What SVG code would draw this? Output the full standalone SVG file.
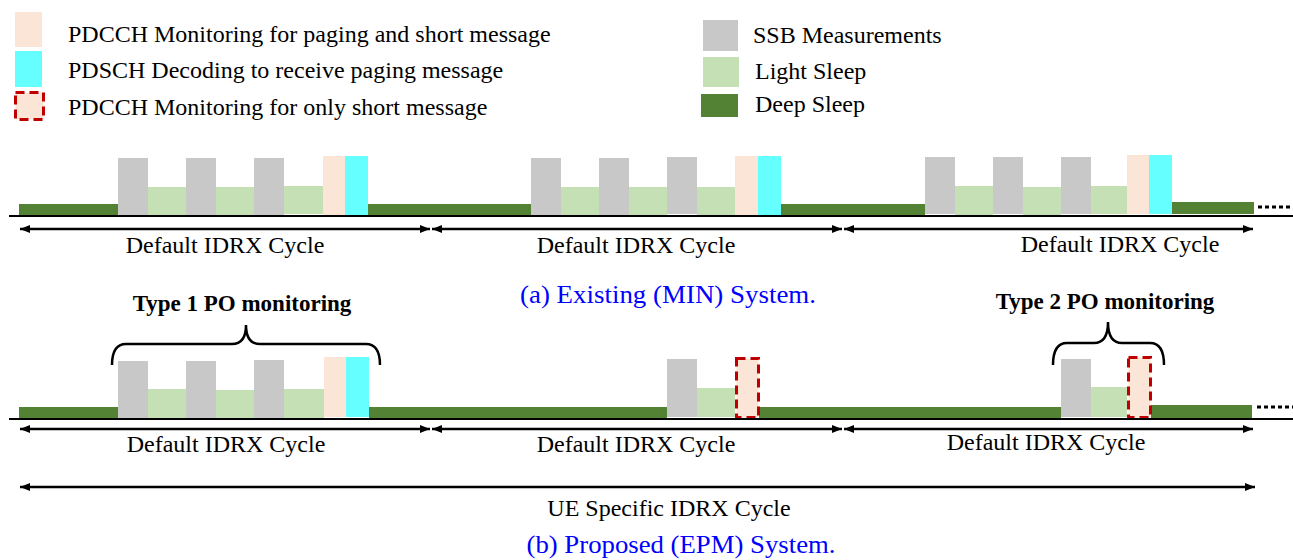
<svg xmlns="http://www.w3.org/2000/svg" width="1293" height="560" viewBox="0 0 1293 560">
<style>
text{font-family:"Liberation Serif","Times New Roman",serif;fill:#000}
.lg{font-size:24px}
.lab{font-size:24px;text-anchor:middle}
.bold{font-size:23px;font-weight:bold;text-anchor:middle}
.cap{font-size:26px;fill:#0000ff;text-anchor:middle}
.ssb{fill:#c8c8c8}
.ls{fill:#c5e0b4}
.ds{fill:#548235}
.pk{fill:#fbe5d6}
.cy{fill:#66ffff}
.sm{fill:#fbe5d6;stroke:#c00000;stroke-width:3;stroke-dasharray:9 5}
.base{stroke:#000;stroke-width:2}
.dots{stroke:#000;stroke-width:3;stroke-dasharray:4 3}
.arr{stroke:#000;stroke-width:2.5;fill:none;marker-start:url(#ah);marker-end:url(#ah)}
.brace{stroke:#000;stroke-width:2.5;fill:none}
</style>
<defs>
<marker id="ah" viewBox="0 0 10 8" refX="10" refY="4" markerWidth="10" markerHeight="8" orient="auto-start-reverse" markerUnits="userSpaceOnUse"><path d="M0,0 L10,4 L0,8 z" fill="#000"/></marker>
</defs>
<rect width="1293" height="560" fill="#fff"/>
<g id="legend">
<g id="leg-pdcch"><rect class="pk" x="15" y="12" width="27" height="35"/><text class="lg" x="68" y="42">PDCCH Monitoring for paging and short message</text></g>
<g id="leg-pdsch"><rect class="cy" x="15" y="51" width="27" height="36"/><text class="lg" x="68" y="78">PDSCH Decoding to receive paging message</text></g>
<g id="leg-short"><rect class="sm" x="15.5" y="92.5" width="28" height="27"/><text class="lg" x="68" y="115">PDCCH Monitoring for only short message</text></g>
<g id="leg-ssb"><rect class="ssb" x="703" y="20" width="35" height="31"/><text class="lg" x="753" y="43">SSB Measurements</text></g>
<g id="leg-light"><rect class="ls" x="703" y="57" width="36" height="30"/><text class="lg" x="755" y="79">Light Sleep</text></g>
<g id="leg-deep"><rect class="ds" x="701" y="94" width="37" height="23"/><text class="lg" x="755" y="112">Deep Sleep</text></g>
</g>
<g id="row-a">
<g id="a-deep">
<rect class="ds" x="19" y="204" width="99" height="12"/>
<rect class="ds" x="368" y="204" width="163" height="12"/>
<rect class="ds" x="781" y="204" width="144" height="12"/>
<rect class="ds" x="1172" y="202" width="82" height="12"/>
</g>
<g id="a-cycle1">
<rect class="ssb" x="118" y="158" width="30" height="58"/>
<rect class="ls" x="148" y="187" width="38" height="29"/>
<rect class="ssb" x="186" y="158" width="30" height="58"/>
<rect class="ls" x="216" y="187" width="38" height="29"/>
<rect class="ssb" x="254" y="158" width="30" height="58"/>
<rect class="ls" x="284" y="186" width="39" height="28"/>
<rect class="pk" x="323" y="156" width="22" height="60"/>
<rect class="cy" x="345" y="156" width="23" height="60"/>
</g>
<g id="a-cycle2">
<rect class="ssb" x="531" y="158" width="30" height="58"/>
<rect class="ls" x="561" y="187" width="38" height="29"/>
<rect class="ssb" x="599" y="158" width="30" height="58"/>
<rect class="ls" x="629" y="187" width="38" height="29"/>
<rect class="ssb" x="667" y="157" width="30" height="57"/>
<rect class="ls" x="697" y="187" width="38" height="29"/>
<rect class="pk" x="735" y="156" width="23" height="60"/>
<rect class="cy" x="758" y="156" width="23" height="60"/>
</g>
<g id="a-cycle3">
<rect class="ssb" x="925" y="157" width="30" height="57"/>
<rect class="ls" x="955" y="186" width="38" height="30"/>
<rect class="ssb" x="993" y="157" width="30" height="57"/>
<rect class="ls" x="1023" y="187" width="38" height="29"/>
<rect class="ssb" x="1061" y="157" width="30" height="57"/>
<rect class="ls" x="1091" y="186" width="36" height="28"/>
<rect class="pk" x="1127" y="155" width="22" height="59"/>
<rect class="cy" x="1149" y="155" width="23" height="59"/>
</g>
<line class="base" x1="9" y1="216" x2="1293" y2="216"/>
<line class="dots" x1="1258" y1="207" x2="1293" y2="207"/>
<text class="lab" x="225" y="253">Default IDRX Cycle</text>
<text class="lab" x="636" y="253">Default IDRX Cycle</text>
<text class="lab" x="1120" y="252">Default IDRX Cycle</text>
<text class="cap" x="668" y="303" textLength="296" lengthAdjust="spacingAndGlyphs">(a) Existing (MIN) System.</text>
</g>
<g id="row-b">
<g id="b-deep">
<rect class="ds" x="19" y="407" width="99" height="12"/>
<rect class="ds" x="369" y="407" width="298" height="12"/>
<rect class="ds" x="759" y="407" width="302" height="12"/>
<rect class="ds" x="1151" y="405" width="101" height="13"/>
</g>
<g id="b-type1">
<rect class="ssb" x="118" y="361" width="30" height="58"/>
<rect class="ls" x="148" y="389" width="38" height="30"/>
<rect class="ssb" x="186" y="361" width="30" height="58"/>
<rect class="ls" x="216" y="390" width="38" height="29"/>
<rect class="ssb" x="254" y="360" width="30" height="59"/>
<rect class="ls" x="284" y="389" width="40" height="30"/>
<rect class="pk" x="324" y="357" width="22" height="60"/>
<rect class="cy" x="346" y="357" width="23" height="60"/>
<path class="brace" d="M112,365 Q112,344 126,344 L232,344 Q246,344 246,325 Q246,344 260,344 L366,344 Q380,344 380,365"/>
<text class="bold" x="242" y="311">Type 1 PO monitoring</text>
</g>
<g id="b-short1">
<rect class="ssb" x="667" y="359" width="30" height="58"/>
<rect class="ls" x="697" y="388" width="38" height="29"/>
<rect class="sm" x="736.5" y="358.5" width="22" height="59"/>
</g>
<g id="b-type2">
<rect class="ssb" x="1061" y="359" width="30" height="58"/>
<rect class="ls" x="1091" y="387" width="36" height="30"/>
<rect class="sm" x="1128.5" y="357.5" width="22" height="60"/>
<path class="brace" d="M1053,365 Q1053,343 1067,343 L1094,343 Q1108,343 1108,322 Q1108,343 1122,343 L1150,343 Q1164,343 1164,365"/>
<text class="bold" x="1105" y="309">Type 2 PO monitoring</text>
</g>
<line class="base" x1="9" y1="419" x2="1293" y2="419"/>
<line class="dots" x1="1257" y1="407" x2="1293" y2="407"/>
<text class="lab" x="226" y="452">Default IDRX Cycle</text>
<text class="lab" x="636" y="452">Default IDRX Cycle</text>
<text class="lab" x="1046" y="450">Default IDRX Cycle</text>
<text class="lab" x="669" y="516">UE Specific IDRX Cycle</text>
<text class="cap" x="681" y="553" textLength="309" lengthAdjust="spacingAndGlyphs">(b) Proposed (EPM) System.</text>
</g>
<g id="connectors">
<line class="arr" x1="20" y1="229" x2="430" y2="229"/>
<line class="arr" x1="432" y1="229" x2="842" y2="229"/>
<line class="arr" x1="844" y1="229" x2="1253" y2="229"/>
<line class="arr" x1="20" y1="429" x2="430" y2="429"/>
<line class="arr" x1="432" y1="429" x2="842" y2="429"/>
<line class="arr" x1="844" y1="429" x2="1253" y2="429"/>
<line class="arr" x1="20" y1="487" x2="1255" y2="487"/>
</g>
</svg>
